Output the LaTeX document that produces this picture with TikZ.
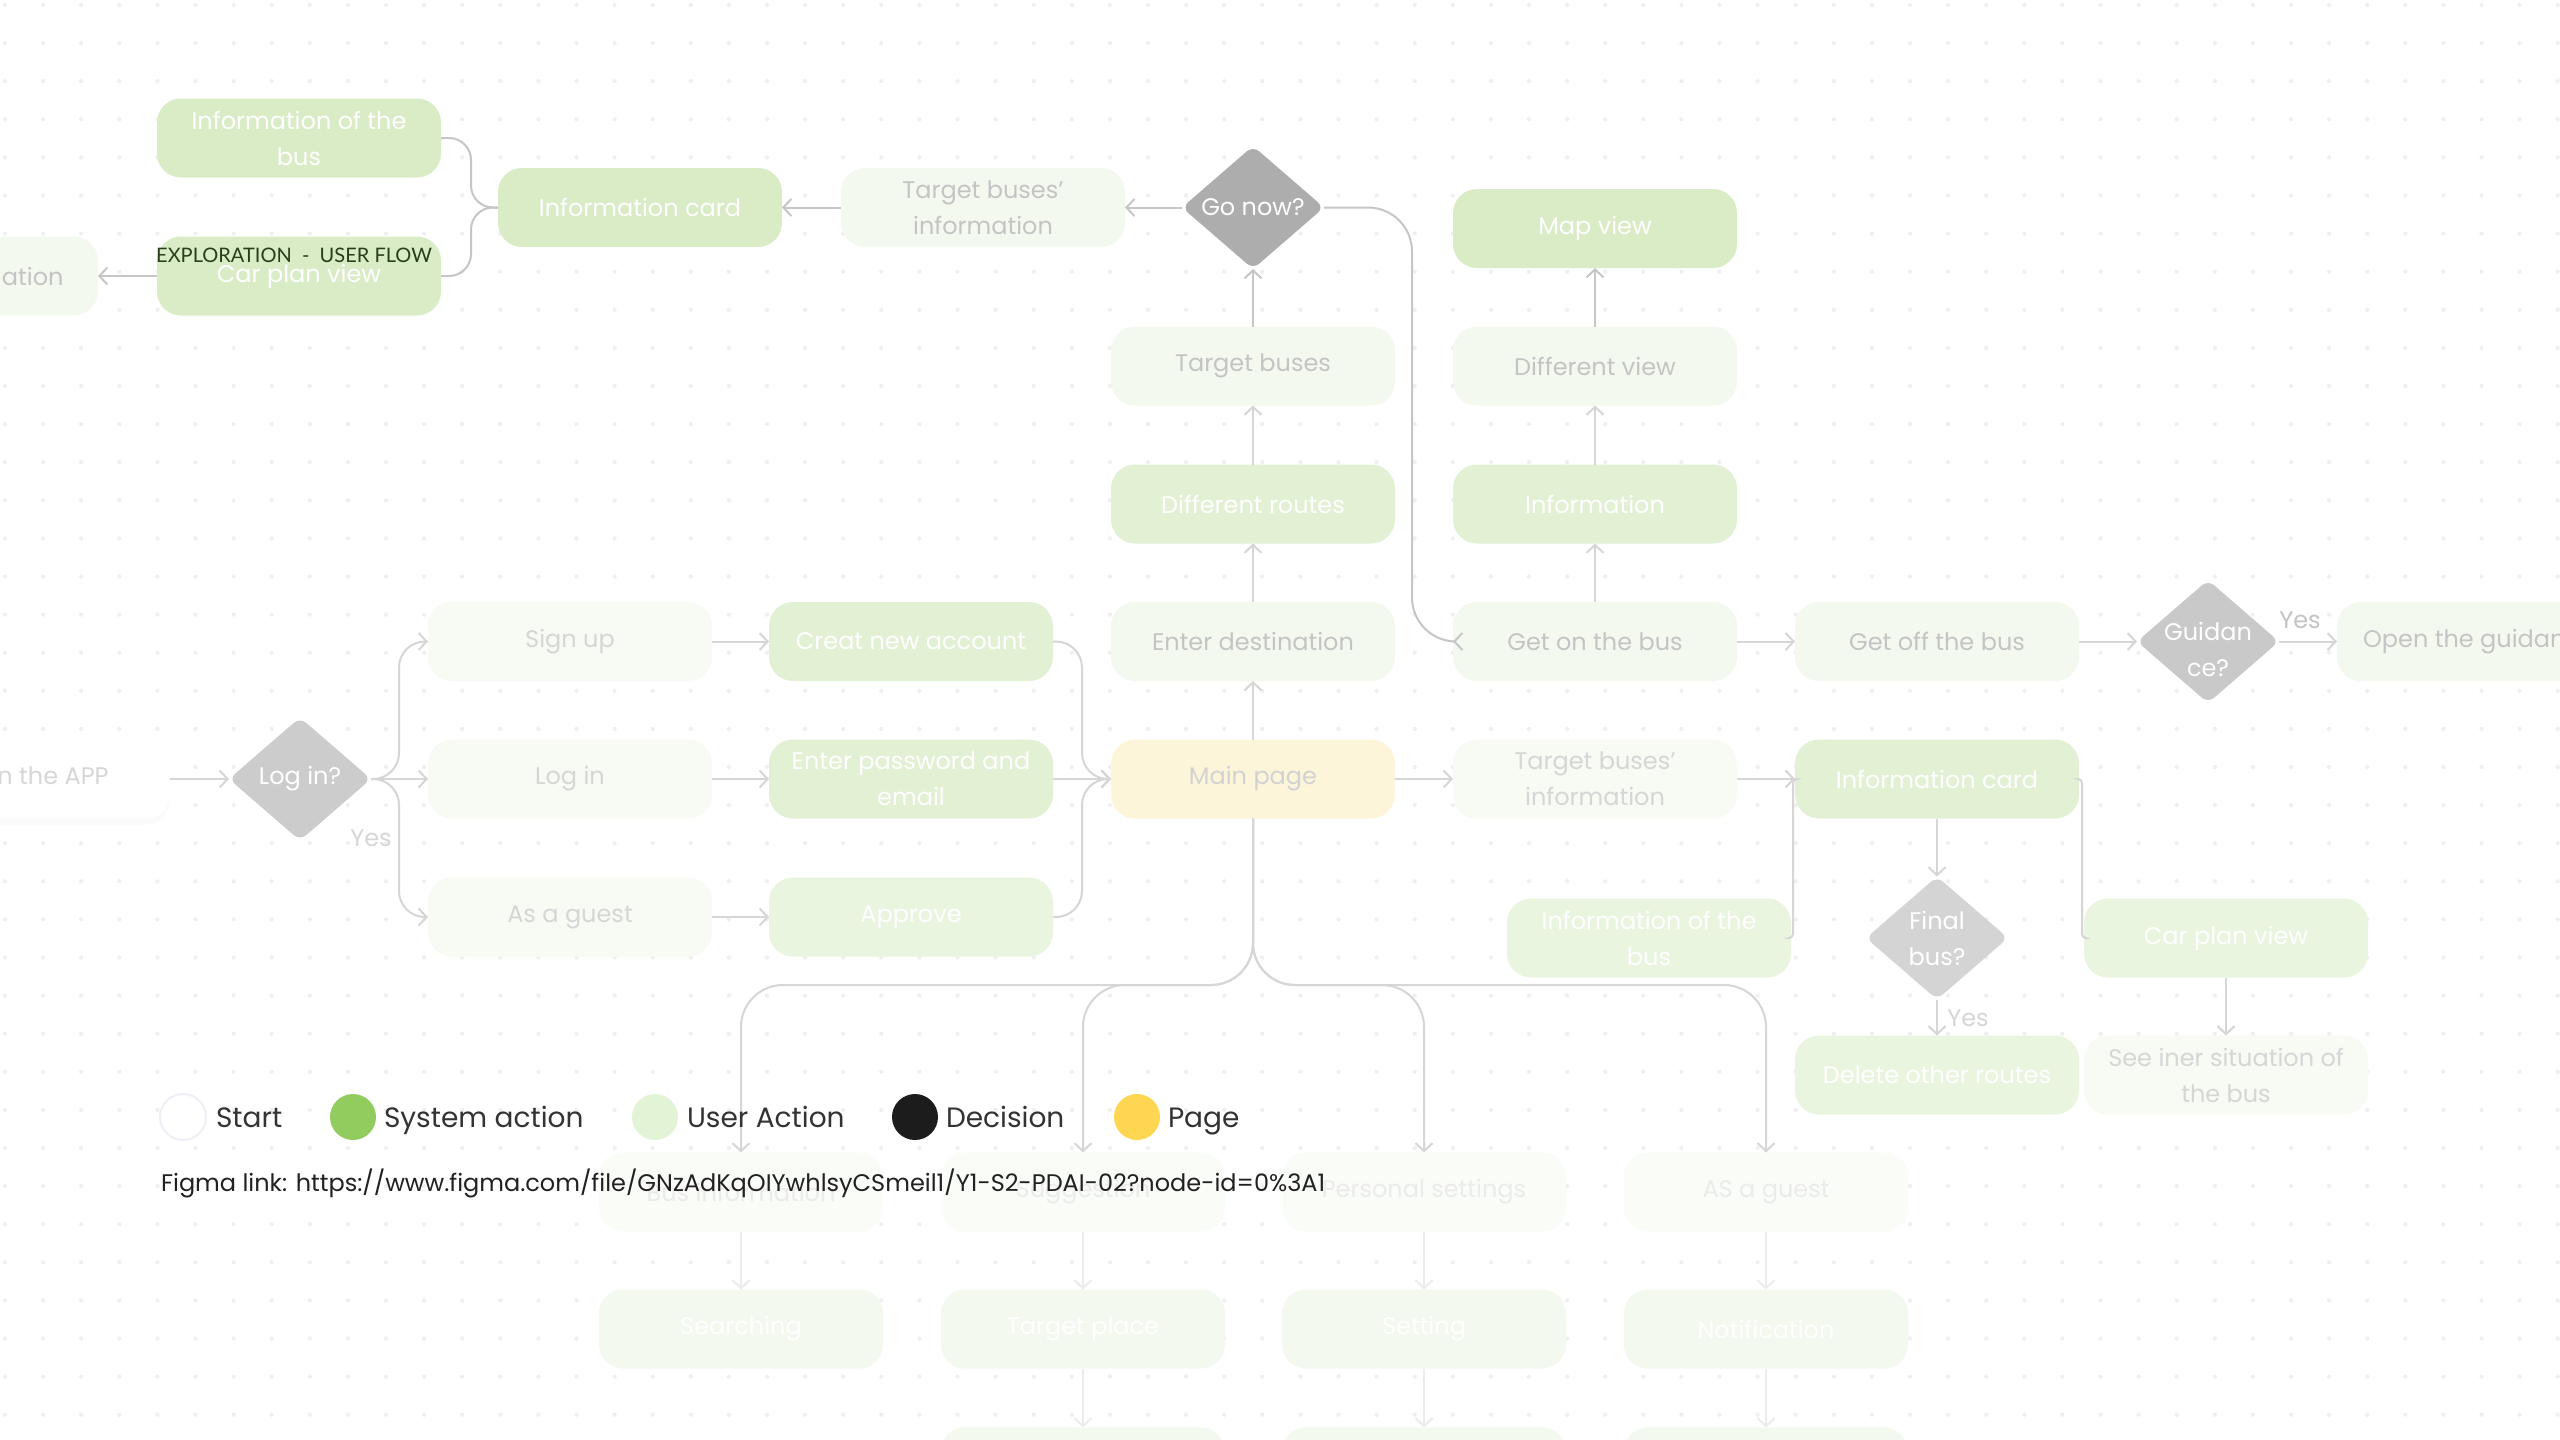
\documentclass[tikz,border=0pt]{standalone}
\usepackage{fontspec}
\setmainfont{Poppins}
\newfontfamily\framefont{Lato}
\usetikzlibrary{arrows.meta}
\usetikzlibrary{shapes.geometric}
\usetikzlibrary{shadows}
\definecolor{sysA}{HTML}{D9ECC6}
\definecolor{sysB}{HTML}{E2F1D4}
\definecolor{sysC}{HTML}{EAF5E0}
\definecolor{sysD}{HTML}{F3F9EE}
\definecolor{usrA}{HTML}{F4F9EF}
\definecolor{usrB}{HTML}{F7FBF3}
\definecolor{usrC}{HTML}{FAFCF8}
\definecolor{usrtextA}{HTML}{C4C4C4}
\definecolor{usrtextB}{HTML}{D6D6D6}
\definecolor{usrtextC}{HTML}{EBEBEB}
\definecolor{pagefill}{HTML}{FDF5DA}
\definecolor{pagetext}{HTML}{D2D2D2}
\definecolor{lineA}{HTML}{C6C6C6}
\definecolor{lineB}{HTML}{D6D6D6}
\definecolor{lineC}{HTML}{ECECEC}
\definecolor{dotgray}{HTML}{EFEFEF}
\definecolor{legendtext}{HTML}{333333}
\definecolor{legendgreen}{HTML}{93CC5E}
\definecolor{legendlight}{HTML}{E3F3D6}
\definecolor{legendblack}{HTML}{1C1C1C}
\definecolor{legendyellow}{HTML}{FED652}
\definecolor{startring}{HTML}{EEF0F6}
\definecolor{framegreen}{HTML}{2A3D1C}

\begin{document}
\begin{tikzpicture}[x=1pt,y=-1pt,inner sep=0pt,outer sep=0pt,line width=2pt,
font=\fontsize{24}{36}\selectfont,
>={Straight Barb[length=8pt,width=17pt]},
flowbox/.style={rectangle,rounded corners=24pt,minimum width=284pt,minimum height=79pt,align=center},
sysbox/.style={flowbox,fill=#1,text=white},
userbox/.style={flowbox,fill=usrA,text=usrtextA},
userpale/.style={flowbox,fill=usrB,text=usrtextB},
userfaint/.style={flowbox,fill=usrC,text=usrtextC},
decision/.style={diamond,fill=#1,text=white,minimum width=142pt,minimum height=123pt,inner sep=-14pt,rounded corners=8pt,align=center},
yeslabel/.style={text=#1},
flow/.style={draw=#1,->},
legdot/.style={circle,minimum size=46pt,fill=#1},
legtext/.style={anchor=base west,text=legendtext,font=\fontsize{28}{34}\selectfont}]
\useasboundingbox (0,0) rectangle (2560,1440);
\fill[white] (0,0) rectangle (2560,1440);
\foreach \i in {0,...,67} {\foreach \j in {0,...,37} {\fill[dotgray] (5+38.1*\i,5+38.1*\j) circle (2.1pt);}}

\draw (299,138) node[sysbox=sysA] (ib1) {Information of the\\bus};
\draw (299,276) node[sysbox=sysA] (cp1) {Car plan view};
\draw (-44,276) node[userbox] (ation) {Route information};
\draw (640,207.5) node[sysbox=sysA] (ic1) {Information card};
\draw (983,207.5) node[userbox] (tbi1) {Target buses'\\information};
\draw (1253,207.5) node[decision=black!32] (gonow) {Go now?};
\draw (294,255) node[text=framegreen,font=\framefont\fontsize{20}{24}\selectfont] (frame) {EXPLORATION\ \ -\ \ USER FLOW};

\draw (1253,366) node[userbox] (tbuses) {Target buses};
\draw (1253,504) node[sysbox=sysB] (routes) {Different routes};
\draw (1253,641.5) node[userbox] (enter) {Enter destination};
\draw (1253,779) node[flowbox,fill=pagefill,text=pagetext] (main) {Main page};

\draw (1595,228.5) node[sysbox=sysA] (mapview) {Map view};
\draw (1595,366) node[userbox] (diffview) {Different view};
\draw (1595,504) node[sysbox=sysB] (info) {Information};
\draw (1595,641.5) node[userbox] (geton) {Get on the bus};
\draw (1937,641.5) node[userbox] (getoff) {Get off the bus};
\draw (2208,641.5) node[decision=black!21] (guide) {};
\draw (2208,649) node[text=white,align=center] (guidetext) {Guidan\\ce?};
\draw (2479,641.5) node[userbox] (open) {Open the guidance};

\draw (28,779) node[flowbox,fill=white,text=usrtextB,drop shadow={shadow xshift=0pt,shadow yshift=-6pt,opacity=.03}] (start) {Open the APP};
\draw (300,779) node[decision=black!20] (login) {Log in?};
\draw (570,641.5) node[userpale] (signup) {Sign up};
\draw (570,779) node[userpale] (logbox) {Log in};
\draw (570,917) node[userpale] (guest) {As a guest};
\draw (911,641.5) node[sysbox=sysB] (creat) {Creat new account};
\draw (911,779) node[sysbox=sysB] (enterpw) {Enter password and\\email};
\draw (911,917) node[sysbox=sysC] (approve) {Approve};

\draw (1595,779) node[userpale] (tbi2) {Target buses'\\information};
\draw (1937,779) node[sysbox=sysB] (ic2) {Information card};
\draw (1649,938) node[sysbox=sysC] (ib2) {Information of the\\bus};
\draw (1937,938) node[decision=black!17] (final) {Final\\bus?};
\draw (2226,938) node[sysbox=sysC] (cp2) {Car plan view};
\draw (1937,1075) node[sysbox=sysC] (delete) {Delete other routes};
\draw (2226,1075) node[userpale] (seeiner) {See iner situation of\\the bus};

\draw (741,1192) node[userfaint] (businfo) {Bus information};
\draw (1083,1192) node[userfaint] (suggest) {Suggestion};
\draw (1424,1192) node[userfaint] (personal) {Personal settings};
\draw (1766,1192) node[userfaint] (asguest) {AS a guest};
\draw (741,1329) node[sysbox=sysD] (search) {Searching};
\draw (1083,1329) node[sysbox=sysD] (target) {Target place};
\draw (1424,1329) node[sysbox=sysD] (setting) {Setting};
\draw (1766,1329) node[sysbox=sysD] (notif) {Notification};
\draw (1083,1467) node[sysbox=sysD] (nextA) {};
\draw (1424,1467) node[sysbox=sysD] (nextB) {};
\draw (1766,1467) node[sysbox=sysD] (nextC) {};

\draw (371,838) node[yeslabel=usrtextB] (yesA) {Yes};
\draw (2300,620) node[yeslabel=usrtextA] (yesB) {Yes};
\draw (1968,1018) node[yeslabel=usrtextB] (yesC) {Yes};

\draw[flow=lineA] (gonow.180) -- (tbi1.0);
\draw[flow=lineA] (tbi1.180) -- (ic1.0);
\draw[draw=lineA,rounded corners=22pt] (ic1.180) -- (471,207.5) -- (471,138) -- (ib1.0);
\draw[draw=lineA,rounded corners=22pt] (ic1.180) -- (471,207.5) -- (471,276) -- (cp1.0);
\draw[flow=lineA] (cp1.180) -- (ation.0);
\draw[flow=lineA] (tbuses.90) -- (gonow.-90);
\draw[flow=lineB] (routes.90) -- (tbuses.-90);
\draw[flow=lineB] (enter.90) -- (routes.-90);
\draw[flow=lineB] (main.90) -- (enter.-90);
\draw[flow=lineA,rounded corners=44pt] (gonow.0) -- (1412,207.5) -- (1412,641.5) -- (geton.180);
\draw[flow=lineA] (diffview.90) -- (mapview.-90);
\draw[flow=lineB] (info.90) -- (diffview.-90);
\draw[flow=lineB] (geton.90) -- (info.-90);
\draw[flow=lineB] (geton.0) -- (getoff.180);
\draw[flow=lineB] (getoff.0) -- (guide.180);
\draw[flow=lineB] (guide.0) -- (open.180);

\draw[flow=lineB] (start.0) -- (login.180);
\draw[flow=lineB,rounded corners=26pt] (login.0) -- (399,779) |- (signup.180);
\draw[flow=lineB] (login.0) -- (logbox.180);
\draw[flow=lineB,rounded corners=26pt] (login.0) -- (399,779) |- (guest.180);
\draw[flow=lineB] (signup.0) -- (creat.180);
\draw[flow=lineB] (logbox.0) -- (enterpw.180);
\draw[flow=lineB] (guest.0) -- (approve.180);
\draw[flow=lineB,rounded corners=26pt] (creat.0) -- (1082,641.5) |- (main.180);
\draw[flow=lineB] (enterpw.0) -- (main.180);
\draw[flow=lineB,rounded corners=26pt] (approve.0) -- (1082,917) |- (main.180);

\draw[flow=lineB] (main.0) -- (tbi2.180);
\draw[flow=lineB] (tbi2.0) -- (ic2.180);
\draw[draw=lineB,rounded corners=4pt] (ic2.180) -- (1793,779) -- (1793,938) -- (ib2.0);
\draw[draw=lineB,rounded corners=4pt] (ic2.0) -- (2082,779) -- (2082,938) -- (cp2.180);
\draw[flow=lineB] (ic2.-90) -- (final.90);
\draw[flow=lineB] (final.-90) -- (delete.90);
\draw[flow=lineB] (cp2.-90) -- (seeiner.90);

\draw[flow=lineB,rounded corners=42pt] (main.-90) -- (1253,985) -| (businfo.90);
\draw[flow=lineB,rounded corners=42pt] (main.-90) -- (1253,985) -| (suggest.90);
\draw[flow=lineB,rounded corners=42pt] (main.-90) -- (1253,985) -| (personal.90);
\draw[flow=lineB,rounded corners=42pt] (main.-90) -- (1253,985) -| (asguest.90);
\draw[flow=lineC] (businfo.-90) -- (search.90);
\draw[flow=lineC] (suggest.-90) -- (target.90);
\draw[flow=lineC] (personal.-90) -- (setting.90);
\draw[flow=lineC] (asguest.-90) -- (notif.90);
\draw[flow=lineC] (target.-90) -- (nextA.90);
\draw[flow=lineC] (setting.-90) -- (nextB.90);
\draw[flow=lineC] (notif.-90) -- (nextC.90);

\draw (183,1117) node[legdot=white,draw=startring,line width=2pt] (lstart) {};
\draw (216,1127) node[legtext] (tstart) {Start};
\draw (353,1117) node[legdot=legendgreen] (lsys) {};
\draw (384,1127) node[legtext] (tsys) {System action};
\draw (655,1117) node[legdot=legendlight] (luser) {};
\draw (687,1127) node[legtext] (tuser) {User Action};
\draw (915,1117) node[legdot=legendblack] (ldec) {};
\draw (946,1127) node[legtext] (tdec) {Decision};
\draw (1137,1117) node[legdot=legendyellow] (lpage) {};
\draw (1168,1127) node[legtext] (tpage) {Page};
\draw (161,1183) node[anchor=west,text=black!87,font=\fontsize{24}{28}\selectfont] (figma) {Figma link: https://www.figma.com/file/GNzAdKqOIYwhlsyCSmeil1/Y1-S2-PDAI-02?node-id=0\%3A1};

\end{tikzpicture}
\end{document}
